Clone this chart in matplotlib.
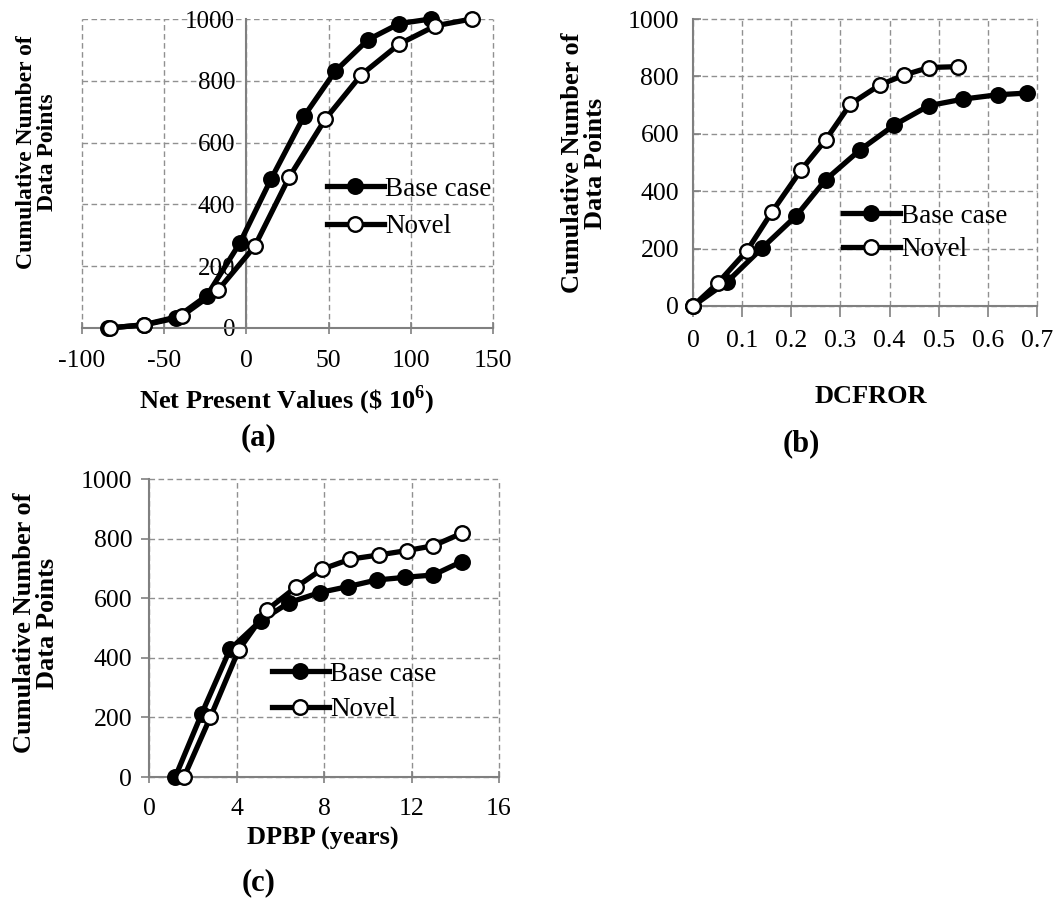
import matplotlib
matplotlib.use('Agg')
import matplotlib.pyplot as plt

plt.rcParams['font.family'] = ['Liberation Serif', 'DejaVu Serif']
plt.rcParams['axes.unicode_minus'] = False
plt.rcParams['mathtext.fontset'] = 'custom'
plt.rcParams['mathtext.rm'] = 'Liberation Serif'
plt.rcParams['mathtext.bf'] = 'Liberation Serif:bold'

# (a) Net present values
npv_base_x = [-84, -62, -43, -24, -4, 15, 35, 54, 74, 93, 112]
npv_base_y = [0, 10, 32, 105, 275, 482, 685, 831, 933, 985, 1000]
npv_novel_x = [-83, -62, -39, -17, 5, 26, 48, 70, 93, 115, 137]
npv_novel_y = [0, 11, 40, 124, 264, 488, 676, 820, 919, 978, 1000]

# (b) DCFROR
dcf_base_x = [0, 0.07, 0.14, 0.21, 0.27, 0.34, 0.41, 0.48, 0.55, 0.62, 0.68]
dcf_base_y = [0, 85, 201, 314, 440, 544, 631, 698, 721, 736, 742]
dcf_novel_x = [0, 0.05, 0.11, 0.16, 0.22, 0.27, 0.32, 0.38, 0.43, 0.48, 0.54]
dcf_novel_y = [0, 79, 193, 326, 474, 579, 703, 770, 805, 831, 834]

# (c) DPBP
pb_base_x = [1.2, 2.4, 3.7, 5.1, 6.4, 7.8, 9.1, 10.4, 11.7, 13.0, 14.3]
pb_base_y = [0, 211, 428, 524, 585, 619, 639, 661, 670, 678, 723]
pb_novel_x = [1.6, 2.8, 4.1, 5.4, 6.7, 7.9, 9.2, 10.5, 11.8, 13.0, 14.3]
pb_novel_y = [0, 200, 426, 561, 636, 697, 731, 745, 760, 776, 818]

W, H = 1058, 907
fig = plt.figure(figsize=(W / 100, H / 100), dpi=100)

def px_axes(left, right, top, bottom):
    return fig.add_axes([left / W, 1 - bottom / H, (right - left) / W, (bottom - top) / H])

grid_kw = dict(color='#909090', linewidth=1.0, linestyle=(0, (4, 2.5)))
tick_fs = 18.5
lab_fs = 19

def style(ax, xlim, xticks, tickdir_x, tickdir_y):
    ax.set_xlim(*xlim)
    ax.set_ylim(0, 1000)
    ax.set_xticks(xticks)
    ax.set_yticks(range(0, 1001, 200))
    ax.grid(True, **grid_kw)
    ax.set_axisbelow(True)
    for s in ['top', 'right']:
        ax.spines[s].set_visible(False)
    for s in ['left', 'bottom']:
        ax.spines[s].set_color('#808080')
        ax.spines[s].set_linewidth(1.5)
        ax.spines[s].set_zorder(1.5)
    ax.tick_params(axis='x', direction=tickdir_x, length=8, width=1.2, color='#808080',
                   labelsize=tick_fs, pad=8)
    ax.tick_params(axis='y', direction=tickdir_y, length=6, width=1.2, color='#808080',
                   labelsize=tick_fs, pad=6)
    for gl in ax.get_xgridlines() + ax.get_ygridlines():
        gl.set_clip_on(False)

def draw(ax, bx, by, nx, ny):
    line_kw = dict(color='black', linewidth=3.8, markersize=10.5, markeredgewidth=1.7,
                   markeredgecolor='black', clip_on=False)
    ax.plot(bx, by, marker='o', markerfacecolor='black', label='Base case', zorder=3, **line_kw)
    ax.plot(nx, ny, marker='o', markerfacecolor='white', label='Novel', zorder=4, **line_kw)

def legend(ax, x, y, spacing):
    ax.legend(loc='center left', bbox_to_anchor=(x / W, 1 - y / H),
              bbox_transform=fig.transFigure, frameon=False, fontsize=19.5,
              handlelength=2.1, handletextpad=0.05, labelspacing=spacing,
              borderpad=0, borderaxespad=0)

ylab = 'Cumulative Number of\nData Points'

# (a)
ax1 = px_axes(82, 493, 19, 328)
style(ax1, (-100, 150), range(-100, 151, 50), 'inout', 'out')
ax1.spines['left'].set_position(('data', 0))
ax1.tick_params(axis='y', length=0, pad=8, labelsize=18)
ax1.tick_params(axis='x', pad=12)
draw(ax1, npv_base_x, npv_base_y, npv_novel_x, npv_novel_y)
legend(ax1, 327, 208, 0.45)
fig.text(37 / W, 1 - 152 / H, ylab, rotation=90, ha='center', va='center',
         fontsize=17, fontweight='bold', linespacing=1.05)
fig.text(287 / W, 1 - 400 / H, r'Net Present Values (\$ 10$^{\mathbf{6}}$)', ha='center', va='center',
         fontsize=lab_fs, fontweight='bold')
fig.text(258 / W, 1 - 438 / H, '(a)', ha='center', va='center', fontsize=22, fontweight='bold')

# (b)
ax2 = px_axes(693, 1037, 19, 306)
style(ax2, (0, 0.7), [0, 0.1, 0.2, 0.3, 0.4, 0.5, 0.6, 0.7], 'out', 'in')
ax2.set_xticklabels(['0', '0.1', '0.2', '0.3', '0.4', '0.5', '0.6', '0.7'])
ax2.tick_params(axis='x', pad=9)
ax2.tick_params(axis='y', pad=10)
draw(ax2, dcf_base_x, dcf_base_y, dcf_novel_x, dcf_novel_y)
legend(ax2, 843, 233, 0.3)
fig.text(584 / W, 1 - 163 / H, ylab, rotation=90, ha='center', va='center',
         fontsize=lab_fs, fontweight='bold', linespacing=0.95)
fig.text(871 / W, 1 - 396 / H, 'DCFROR', ha='center', va='center',
         fontsize=lab_fs, fontweight='bold')
fig.text(801 / W, 1 - 444 / H, '(b)', ha='center', va='center', fontsize=22, fontweight='bold')

# (c)
ax3 = px_axes(149, 499, 479, 777)
style(ax3, (0, 16), range(0, 17, 4), 'inout', 'out')
ax3.tick_params(axis='x', pad=11)
draw(ax3, pb_base_x, pb_base_y, pb_novel_x, pb_novel_y)
legend(ax3, 272, 692, 0.4)
fig.text(36 / W, 1 - 623 / H, ylab, rotation=90, ha='center', va='center',
         fontsize=lab_fs, fontweight='bold', linespacing=0.95)
fig.text(323 / W, 1 - 838 / H, 'DPBP (years)', ha='center', va='center',
         fontsize=lab_fs, fontweight='bold')
fig.text(259 / W, 1 - 883 / H, '(c)', ha='center', va='center', fontsize=22, fontweight='bold')

fig.savefig('out.png', dpi=100)
